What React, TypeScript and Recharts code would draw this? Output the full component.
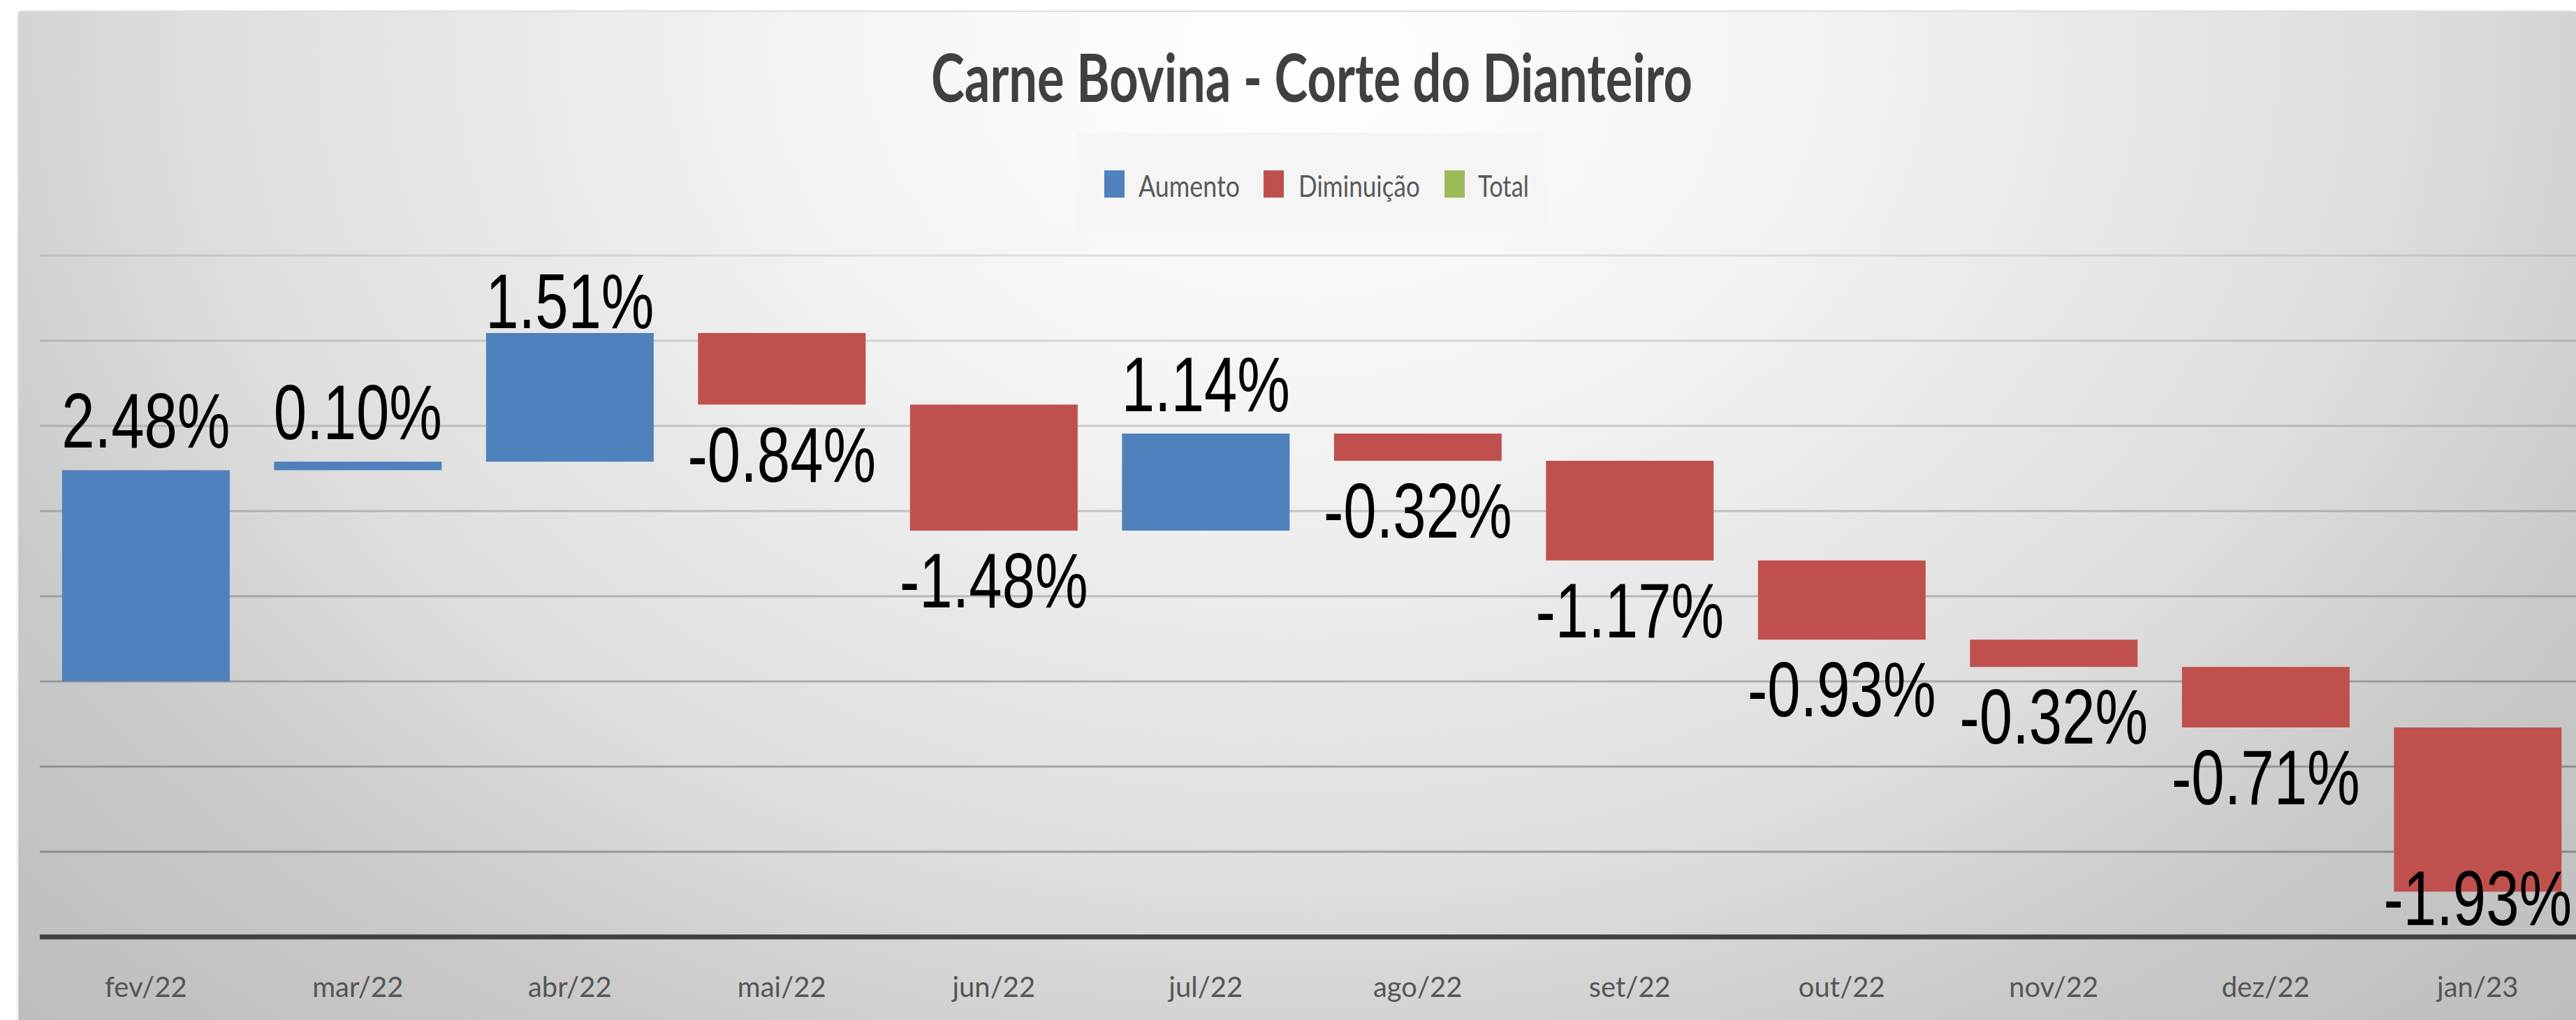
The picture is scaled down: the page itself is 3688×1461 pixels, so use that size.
import { BarChart, Bar, XAxis, YAxis, CartesianGrid, Cell, LabelList } from "recharts";

const title = "Carne Bovina - Corte do Dianteiro";
const months = [
  "fev/22", "mar/22", "abr/22", "mai/22", "jun/22", "jul/22",
  "ago/22", "set/22", "out/22", "nov/22", "dez/22", "jan/23",
];
// monthly change, %
const changes = [2.48, 0.1, 1.51, -0.84, -1.48, 1.14, -0.32, -1.17, -0.93, -0.32, -0.71, -1.93];
const legendLabels = ["Aumento", "Diminuição", "Total"];
const yTicks = [-3, -2, -1, 0, 1, 2, 3, 4, 5];

const BLUE = "#4F81BD";
const RED = "#C0504D";
const GREEN = "#9BBB59";
const legendColors = [BLUE, RED, GREEN];

// chart box (inside the gray panel)
const CHART_W = 3680;
const CHART_H = 1444;
const MARGIN = { top: 349, right: 8, left: 30, bottom: 29 };
const XAXIS_H = 90;
const PLOT_TOP = MARGIN.top;
const PLOT_BOTTOM = CHART_H - MARGIN.bottom - XAXIS_H;

// the picture is squeezed sideways, so the text is too
const LABEL_SX = 0.76;
const TICK_SX = 1;

// waterfall: each bar floats from the level before to the level after
const rows = (() => {
  let level = 0;
  return months.map((month, i) => {
    const start = level;
    level = level + changes[i];
    return {
      month,
      change: changes[i],
      range: [Math.min(start, level), Math.max(start, level)],
    };
  });
})();

function MonthTick({ x, y, payload }: any) {
  return (
    <text
      transform={`translate(${x},${y + 86}) scale(${TICK_SX},1)`}
      textAnchor="middle"
      fontFamily="Lato, 'Open Sans', sans-serif"
      fontSize={40}
      fill="#555"
    >
      {payload.value}
    </text>
  );
}

// Excel-like data label: above rising bars, below falling ones, kept in the plot
function ValueLabel(props: any) {
  const { x, y, width, height, value } = props;
  const cx = Number(x) + Number(width) / 2;
  const baseline =
    value >= 0
      ? Math.max(Number(y) - 32, PLOT_TOP + 104)
      : Math.min(Number(y) + Number(height) + 110, PLOT_BOTTOM - 17);
  return (
    <text
      transform={`translate(${cx},${baseline}) scale(${LABEL_SX},1)`}
      textAnchor="middle"
      fontFamily="'Liberation Sans', Arial, sans-serif"
      fontSize={112}
      fill="#000"
    >
      {`${Number(value).toFixed(2)}%`}
    </text>
  );
}

// legend entries: square x, text x, text width
const legendLayout = [
  { sq: 1554, tx: 1603, tw: 145 },
  { sq: 1782, tx: 1832, tw: 174 },
  { sq: 2041, tx: 2089, tw: 73 },
];

export default function App() {
  return (
    <>
      <style>{"body{margin:0;overflow:hidden;background:#fff}"}</style>
      <div
        style={{
          position: "absolute",
          left: 27,
          top: 17,
          width: 3661,
          height: CHART_H,
          overflow: "hidden",
          boxShadow: "0 0 4px rgba(0,0,0,0.35)",
          background:
            "radial-gradient(ellipse farthest-corner at 50% 4%, #ffffff 0%, #f3f3f3 28%, #dddddd 62%, #c9c9c9 80%, #bdbdbd 100%)",
        }}
      >
        <BarChart
          width={CHART_W}
          height={CHART_H}
          data={rows}
          margin={MARGIN}
          barCategoryGap="10.5%"
        >
          <defs>
            {/* gridlines look lighter near the bright top of the panel */}
            <linearGradient
              id="gridFade"
              gradientUnits="userSpaceOnUse"
              x1={0}
              y1={PLOT_TOP}
              x2={0}
              y2={PLOT_BOTTOM}
            >
              <stop offset="0%" stopColor="#000" stopOpacity={0.1} />
              <stop offset="30%" stopColor="#000" stopOpacity={0.17} />
              <stop offset="100%" stopColor="#000" stopOpacity={0.32} />
            </linearGradient>
          </defs>
          <CartesianGrid vertical={false} stroke="url(#gridFade)" strokeWidth={3} />
          <YAxis hide type="number" domain={[-3, 5]} ticks={yTicks} allowDataOverflow />
          <XAxis
            dataKey="month"
            height={XAXIS_H}
            axisLine={{ stroke: "#404040", strokeWidth: 7 }}
            tickLine={false}
            tickSize={0}
            tickMargin={0}
            interval={0}
            tick={<MonthTick />}
          />
          <Bar dataKey="range" isAnimationActive={false}>
            {rows.map((r, i) => (
              <Cell key={i} fill={r.change >= 0 ? BLUE : RED} />
            ))}
            <LabelList dataKey="change" content={<ValueLabel />} />
          </Bar>
        </BarChart>

        <svg
          width={3661}
          height={340}
          style={{ position: "absolute", left: 0, top: 0, pointerEvents: "none" }}
        >
          <text
            x={1851}
            y={129}
            textAnchor="middle"
            fontFamily="Lato, 'Open Sans', sans-serif"
            fontWeight={700}
            fontSize={96}
            fill="#404040"
            textLength={1090}
            lengthAdjust="spacingAndGlyphs"
          >
            {title}
          </text>
          <rect x={1516} y={173} width={670} height={143} fill="#f5f5f5" />
          {legendLabels.map((label, i) => (
            <g key={label}>
              <rect x={legendLayout[i].sq} y={227} width={29} height={39} fill={legendColors[i]} />
              <text
                x={legendLayout[i].tx}
                y={265}
                fontFamily="Lato, 'Open Sans', sans-serif"
                fontSize={42}
                fill="#595959"
                textLength={legendLayout[i].tw}
                lengthAdjust="spacingAndGlyphs"
              >
                {label}
              </text>
            </g>
          ))}
        </svg>
      </div>
    </>
  );
}
